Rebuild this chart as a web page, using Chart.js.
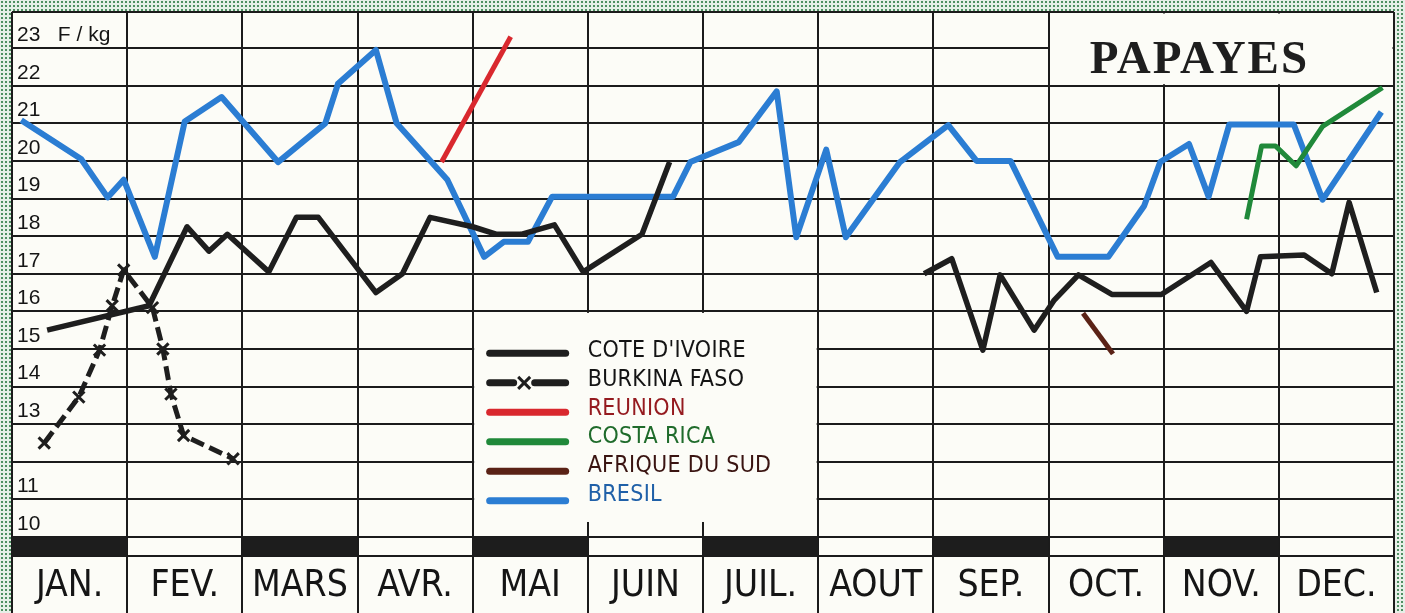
<!DOCTYPE html>
<html lang="fr">
<head>
<meta charset="utf-8">
<title>Papayes</title>
<script src="https://cdn.jsdelivr.net/npm/chart.js@4.4.1/dist/chart.umd.min.js"></script>
<style>
    html, body { margin: 0; padding: 0; }
    body {
        width: 1405px; height: 613px; overflow: hidden;
        background-color: #e7efe8;
        background-image: radial-gradient(circle, #4f8f62 0.9px, transparent 1.4px);
        background-size: 4px 4px;
    }
    /* la mise en page de Chart.js garde ~11px en bas : on les laisse sous le bord de la fenêtre */
    #wrap { position: relative; width: 1405px; height: 624px; }
</style>
</head>
<body>
<div id="wrap"><canvas id="papayes"></canvas></div>
<script>
// Mois et graduations
const moisLabels = ['JAN.', 'FEV.', 'MARS', 'AVR.', 'MAI', 'JUIN', 'JUIL.', 'AOUT', 'SEP.', 'OCT.', 'NOV.', 'DEC.'];
const bandeMois = [0, 2, 4, 6, 8, 10];
const yTickValues = [10, 11, 12, 13, 14, 15, 16, 17, 18, 19, 20, 21, 22, 23];
const yTickLabels = ['10', '11', '', '13', '14', '15', '16', '17', '18', '19', '20', '21', '22', '23   F / kg'];

// Prix en F/kg (x = position dans l'année, en mois)
const coteIvoireX1 = [0.305, 1.19, 1.52, 1.71, 1.87, 2.23, 2.47, 2.66, 3.16, 3.39, 3.63, 4.0, 4.21, 4.42, 4.71, 4.96, 5.47, 5.71];
const coteIvoireY1 = [15.5, 16.15, 18.25, 17.6, 18.05, 17.05, 18.5, 18.5, 16.5, 17.0, 18.5, 18.25, 18.05, 18.05, 18.3, 17.05, 18.05, 19.97];
const coteIvoireX2 = [7.92, 8.16, 8.43, 8.58, 8.875, 9.05, 9.26, 9.55, 9.98, 10.41, 10.72, 10.84, 11.22, 11.46, 11.61, 11.85];
const coteIvoireY2 = [17.0, 17.4, 14.97, 16.97, 15.5, 16.3, 16.97, 16.45, 16.45, 17.3, 16.0, 17.45, 17.5, 17.0, 18.9, 16.5];

const burkinaX = [0.28, 0.58, 0.76, 0.87, 0.97, 1.22, 1.31, 1.38, 1.49, 1.92];
const burkinaY = [12.5, 13.72, 14.97, 16.15, 17.1, 16.1, 15.0, 13.8, 12.7, 12.08];

const reunionX = [3.73, 4.33];
const reunionY = [19.97, 23.3];

const costaRicaX = [10.72, 10.85, 10.97, 11.15, 11.38, 11.90];
const costaRicaY = [18.45, 20.4, 20.4, 19.87, 20.92, 21.95];

const afriqueSudX = [9.30, 9.56];
const afriqueSudY = [15.95, 14.87];

const bresilX = [0.08, 0.60, 0.83, 0.97, 1.24, 1.50, 1.82, 2.31, 2.72, 2.83, 3.16, 3.34, 3.78, 4.10, 4.27, 4.48, 4.69, 5.74, 5.89, 6.31, 6.64, 6.81, 7.07, 7.24, 7.71, 8.13, 8.375, 8.67, 9.08, 9.52, 9.83, 9.97, 10.22, 10.39, 10.57, 11.13, 11.38, 11.89];
const bresilY = [21.08, 20.05, 19.03, 19.5, 17.45, 21.05, 21.7, 19.97, 21.0, 22.05, 22.95, 21.0, 19.5, 17.45, 17.85, 17.85, 19.05, 19.05, 19.97, 20.5, 21.85, 17.97, 20.3, 17.97, 19.97, 20.95, 20.0, 20.0, 17.45, 17.45, 18.8, 19.97, 20.45, 19.05, 20.97, 20.97, 18.97, 21.3];

const fond = '#fcfcf7';
const encre = '#1b1b1b';
const policeEtroite = '"Liberation Sans Narrow", "DejaVu Sans Condensed", "Liberation Sans", sans-serif';

function points(xs, ys) {
    return xs.map((x, i) => ({ x: x, y: ys[i] }));
}

// Côte d'Ivoire : deux tronçons séparés par un trou
const coteIvoireData = points(coteIvoireX1, coteIvoireY1)
    .concat([{ x: 6.8, y: null }])
    .concat(points(coteIvoireX2, coteIvoireY2));

const ligne = (label, data, couleur, couleurTexte, extra) => Object.assign({
    label: label,
    data: data,
    borderColor: couleur,
    backgroundColor: couleur,
    labelColor: couleurTexte,
    borderWidth: 5,
    tension: 0,
    pointRadius: 0,
    borderJoinStyle: 'round',
    borderCapStyle: 'butt',
    spanGaps: false,
    fill: false
}, extra || {});

const datasets = [
    ligne("COTE D'IVOIRE", coteIvoireData, '#1e1e1e', '#141414', { borderWidth: 5.5, order: 2 }),
    ligne('BURKINA FASO', points(burkinaX, burkinaY), '#1e1e1e', '#141414', {
        borderDash: [14, 6],
        pointStyle: 'crossRot',
        pointRadius: 8,
        pointBorderWidth: 3,
        pointBorderColor: '#1e1e1e',
        order: 1
    }),
    ligne('REUNION', points(reunionX, reunionY), '#d9282e', '#951a1f', { order: 3 }),
    ligne('COSTA RICA', points(costaRicaX, costaRicaY), '#20893a', '#1f6b2b', { order: 1 }),
    ligne('AFRIQUE DU SUD', points(afriqueSudX, afriqueSudY), '#5a2216', '#3a1411', { order: 3 }),
    ligne('BRESIL', points(bresilX, bresilY), '#2b7dd3', '#1f60a8', { borderWidth: 6, order: 4 })
];

// Décor : fond, bandes noires, cadre du titre, légende
const decor = {
    id: 'decor',
    beforeDraw(chart) {
        const { ctx, chartArea: a } = chart;
        ctx.save();
        ctx.fillStyle = fond;
        ctx.fillRect(a.left, a.top, a.right - a.left, a.bottom - a.top);
        ctx.restore();
    },
    beforeDatasetsDraw(chart) {
        const { ctx, scales: { x, y } } = chart;
        ctx.save();
        ctx.fillStyle = '#1d1d1d';
        bandeMois.forEach(i => {
            const x0 = x.getPixelForValue(i);
            const x1 = x.getPixelForValue(i + 1);
            const y0 = y.getPixelForValue(10);
            const y1 = y.getPixelForValue(9.5);
            ctx.fillRect(x0, y0, x1 - x0, y1 - y0);
        });

        // cadre du titre
        ctx.fillStyle = fond;
        const tx0 = x.getPixelForValue(9) + 1.5;
        const tx1 = x.getPixelForValue(12) - 1.5;
        const ty1 = y.getPixelForValue(22) - 1.5;
        ctx.fillRect(tx0, y.top + 1.5, tx1 - tx0, ty1 - y.top - 1.5);
        ctx.fillStyle = '#1e1e1e';
        ctx.font = 'bold 47px "Liberation Serif", "DejaVu Serif", serif';
        ctx.letterSpacing = '2px';
        ctx.textAlign = 'center';
        ctx.textBaseline = 'alphabetic';
        ctx.fillText('PAPAYES', x.getPixelForValue(10.31), y.top + 61);

        // cadre de la légende
        ctx.fillStyle = fond;
        const lx0 = x.getPixelForValue(4) + 1.5;
        const lx1 = x.getPixelForValue(7) - 1.5;
        const ly0 = y.getPixelForValue(16) + 1.5;
        const ly1 = y.getPixelForValue(10.4);
        ctx.fillRect(lx0, ly0, lx1 - lx0, ly1 - ly0);
        ctx.restore();
    },
    afterDatasetsDraw(chart) {
        const { ctx, scales: { x, y } } = chart;
        const left = x.getPixelForValue(4);
        const top = y.getPixelForValue(16);
        ctx.save();
        chart.data.datasets.forEach((ds, i) => {
            const ly = top + 42 + i * 29.5;
            const sx0 = left + 17;
            const sx1 = left + 93;
            ctx.strokeStyle = ds.borderColor;
            ctx.lineWidth = 7;
            ctx.lineCap = 'round';
            ctx.beginPath();
            if (ds.pointStyle === 'crossRot') {
                ctx.moveTo(sx0, ly); ctx.lineTo(sx0 + 24, ly);
                ctx.moveTo(sx0 + 45, ly); ctx.lineTo(sx1, ly);
                ctx.stroke();
                ctx.lineWidth = 3;
                ctx.lineCap = 'butt';
                const cx = sx0 + 34.5;
                ctx.beginPath();
                ctx.moveTo(cx - 6, ly - 6); ctx.lineTo(cx + 6, ly + 6);
                ctx.moveTo(cx - 6, ly + 6); ctx.lineTo(cx + 6, ly - 6);
                ctx.stroke();
            } else {
                ctx.moveTo(sx0, ly); ctx.lineTo(sx1, ly);
                ctx.stroke();
            }
            ctx.fillStyle = ds.labelColor;
            ctx.font = '23px ' + policeEtroite;
            ctx.letterSpacing = '0.3px';
            ctx.textAlign = 'left';
            ctx.textBaseline = 'middle';
            ctx.fillText(ds.label, left + 115, ly - 2 - i * 0.8);
        });
        ctx.restore();
    }
};

const ctx = document.getElementById('papayes');
new Chart(ctx, {
    type: 'line',
    data: { datasets: datasets },
    plugins: [decor],
    options: {
        responsive: true,
        maintainAspectRatio: false,
        animation: false,
        layout: { padding: { left: 12, top: 12, right: 11, bottom: 0 } },
        plugins: {
            legend: { display: false },
            tooltip: { enabled: false }
        },
        scales: {
            x: {
                type: 'linear', min: 0, max: 12, position: 'bottom',
                afterBuildTicks: s => { s.ticks = moisLabels.map((m, i) => ({ value: i + 0.5 })); },
                afterFit: s => { s.height = 0; s.paddingLeft = 0; s.paddingRight = 0; },
                grid: { display: false, drawTicks: false },
                border: { display: false },
                ticks: {
                    autoSkip: false, maxRotation: 0, mirror: true, padding: 0,
                    color: '#151515',
                    font: { family: policeEtroite, size: 37, lineHeight: 1.44 },
                    callback: (v, i) => moisLabels[i]
                }
            },
            xg: {
                type: 'linear', min: 0, max: 12, position: 'bottom',
                afterBuildTicks: s => { s.ticks = [0, 1, 2, 3, 4, 5, 6, 7, 8, 9, 10, 11, 12].map(v => ({ value: v })); },
                afterFit: s => { s.height = 0; s.paddingLeft = 0; s.paddingRight = 0; },
                grid: { color: encre, lineWidth: 2, drawTicks: false },
                border: { display: false },
                ticks: { display: false }
            },
            y: {
                type: 'linear', min: 7.98, max: 23.96,
                afterBuildTicks: s => { s.ticks = [9.5].concat(yTickValues, [23.96]).map(v => ({ value: v })); },
                afterFit: s => { s.width = 0; s.paddingTop = 0; s.paddingBottom = 0; },
                grid: { color: encre, lineWidth: 2, drawTicks: false },
                border: { display: false },
                ticks: {
                    autoSkip: false, mirror: true, padding: 5, labelOffset: -13,
                    color: '#151515',
                    font: { family: '"Liberation Sans", Arial, sans-serif', size: 21 },
                    callback: v => {
                        const k = yTickValues.indexOf(v);
                        return k < 0 ? '' : yTickLabels[k];
                    }
                }
            }
        }
    }
});
</script>
</body>
</html>
